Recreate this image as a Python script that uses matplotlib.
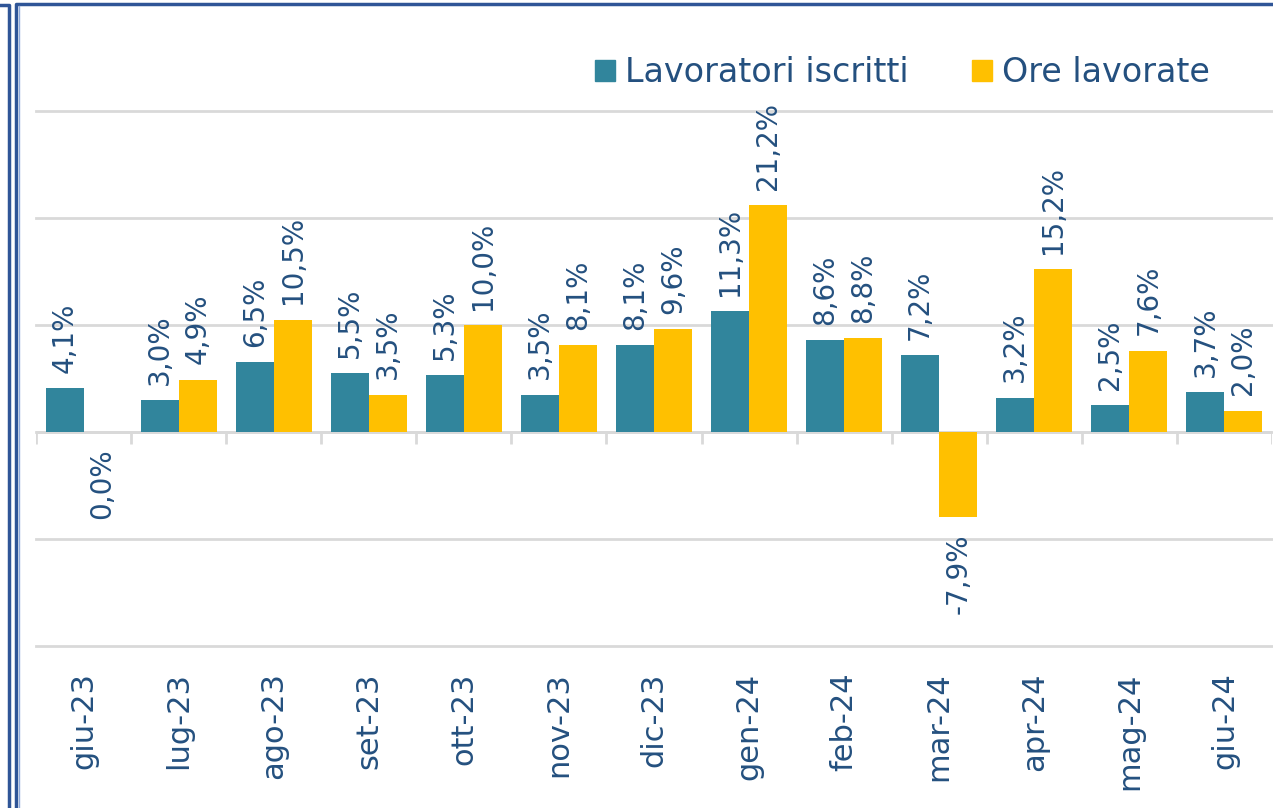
import numpy as np
import matplotlib
matplotlib.use("Agg")
import matplotlib.pyplot as plt
from matplotlib.lines import Line2D
from matplotlib.patches import Patch

mesi = ["giu-23", "lug-23", "ago-23", "set-23", "ott-23", "nov-23", "dic-23",
        "gen-24", "feb-24", "mar-24", "apr-24", "mag-24", "giu-24"]
lavoratori = [4.1, 3.0, 6.5, 5.5, 5.3, 3.5, 8.1, 11.3, 8.6, 7.2, 3.2, 2.5, 3.7]
ore = [0.0, 4.9, 10.5, 3.5, 10.0, 8.1, 9.6, 21.2, 8.8, -7.9, 15.2, 7.6, 2.0]

TEAL = "#31859C"
GOLD = "#FFC000"
TXT = "#24507F"
GRID = "#D9D9D9"

plt.rcParams["font.family"] = ["DejaVu Sans"]

W, H = 1273, 808
fig = plt.figure(figsize=(W / 100, H / 100), dpi=100)
ax = fig.add_axes([36 / W, (H - 646) / H, (1272 - 36) / W, (646 - 111) / H])

x = np.arange(len(mesi))
bw = 0.4
b1 = ax.bar(x - bw / 2, lavoratori, bw, color=TEAL, zorder=3)
b2 = ax.bar(x + bw / 2, ore, bw, color=GOLD, zorder=3)


def lab(v):
    return f"{v:.1f}%".replace(".", ",")


for bars, vals in ((b1, lavoratori), (b2, ore)):
    for b, v in zip(bars, vals):
        cx = b.get_x() + b.get_width() / 2
        if v > 0:
            ax.annotate(lab(v), (cx, v), xytext=(0, 11), textcoords="offset points",
                        rotation=90, ha="center", va="bottom", fontsize=20,
                        color=TXT, clip_on=False)
        else:
            ax.annotate(lab(v), (cx, v), xytext=(0, -12), textcoords="offset points",
                        rotation=90, ha="center", va="top", fontsize=20,
                        color=TXT, clip_on=False)

ax.set_xlim(-0.5, len(mesi) - 0.5)
ax.set_ylim(-20, 30)
ax.set_yticks(np.arange(-20, 31, 10))
ax.yaxis.grid(True, color=GRID, lw=2, zorder=0)
for gl in ax.get_ygridlines():
    gl.set_clip_on(False)
ax.tick_params(axis="y", length=0, labelleft=False)
for s in ax.spines.values():
    s.set_visible(False)

# asse dello zero e separatori delle categorie
ax.axhline(0, color=GRID, lw=2, zorder=2)
ax.vlines(np.arange(len(mesi) + 1) - 0.5, -1.1, 0, color=GRID, lw=2, zorder=2)

ax.set_xticks(x)
ax.set_xticklabels(mesi, rotation=90, fontsize=22, color=TXT)
ax.tick_params(axis="x", length=0, pad=19)

handles = [Patch(color=TEAL, label="Lavoratori iscritti"),
           Patch(color=GOLD, label="Ore lavorate")]
fig.legend(handles=handles, loc="center", bbox_to_anchor=(0.709, 1 - 73 / H),
           ncol=2, frameon=False, fontsize=24, labelcolor=TXT,
           handlelength=0.6, handleheight=0.6, handletextpad=0.3,
           columnspacing=1.9)

# cornici
fr = "#2F5597"
fig.add_artist(Line2D([0, 9 / W, 9 / W], [1 - 5 / H, 1 - 5 / H, 0],
                      color=fr, lw=2.5, transform=fig.transFigure))
fig.add_artist(Line2D([16 / W, 16 / W, 1], [0, 1 - 4 / H, 1 - 4 / H],
                      color=fr, lw=2.5, transform=fig.transFigure))
fig.add_artist(Line2D([18.5 / W, 18.5 / W], [0, 1 - 6 / H],
                      color="#8FAADC", lw=1, transform=fig.transFigure))

fig.savefig("out.png", dpi=100)
